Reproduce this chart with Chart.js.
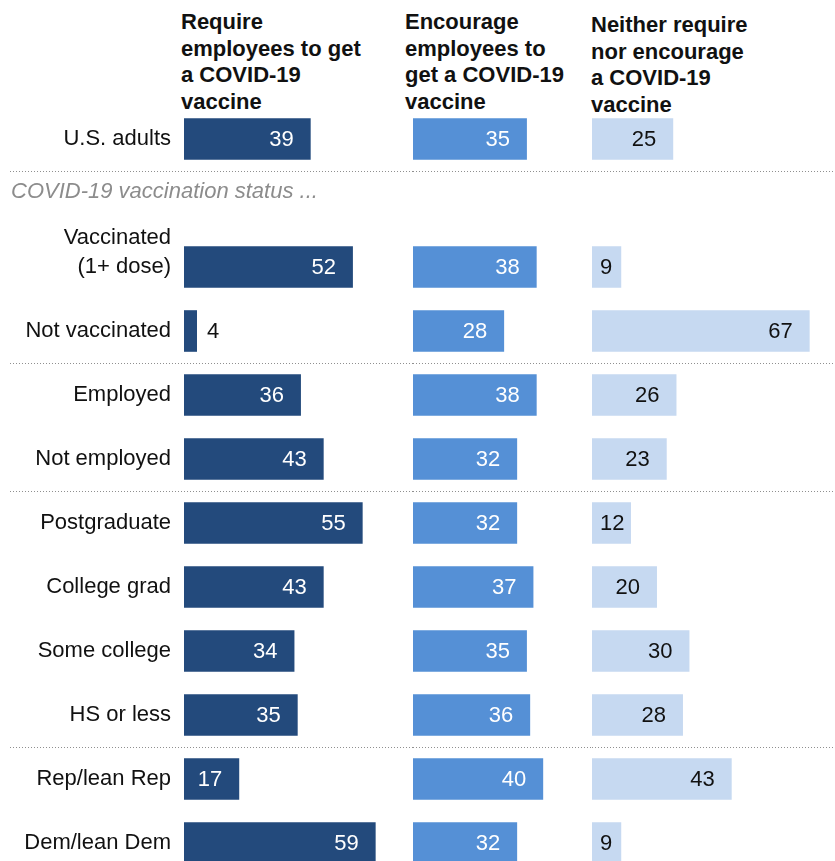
<!DOCTYPE html>
<html>
<head>
<meta charset="utf-8">
<script src="https://cdn.jsdelivr.net/npm/chart.js@4.4.1/dist/chart.umd.min.js"></script>
<style>
  html, body { margin: 0; padding: 0; background: #fff; overflow: hidden; width: 835px; height: 861px; }
  .wrap { position: relative; width: 835px; height: 861px; }
  canvas { position: absolute; top: 0; }
  .head { position: absolute; top: 9px; font: bold 22px "Liberation Sans", Arial, sans-serif;
          line-height: 26.5px; color: #111; white-space: nowrap; }
</style>
</head>
<body>
<div class="wrap">
  <div class="head" style="left:181px">Require<br>employees to get<br>a COVID-19<br>vaccine</div>
  <div class="head" style="left:405px">Encourage<br>employees to<br>get a COVID-19<br>vaccine</div>
  <div class="head" style="left:591px; top:12px">Neither require<br>nor encourage<br>a COVID-19<br>vaccine</div>
  <canvas id="c1" width="413" height="875" style="left:0"></canvas>
  <canvas id="c2" width="179" height="875" style="left:413px"></canvas>
  <canvas id="c3" width="243" height="875" style="left:592px"></canvas>
</div>
<script>
// rows (slot 1 is the "vaccination status" subtitle row)
const categories = ['U.S. adults', '', ['Vaccinated', '(1+ dose)', ''], 'Not vaccinated',
  'Employed', 'Not employed', 'Postgraduate', 'College grad', 'Some college', 'HS or less',
  'Rep/lean Rep', 'Dem/lean Dem'];

const requireVals   = [39, null, 52, 4, 36, 43, 55, 43, 34, 35, 17, 59];
const encourageVals = [35, null, 38, 28, 38, 32, 32, 37, 35, 36, 40, 32];
const neitherVals   = [25, null, 9, 67, 26, 23, 12, 20, 30, 28, 43, 9];

// dotted separators go after these rows
const dotsAfter = [0, 3, 5, 9];
const subtitle = 'COVID-19 vaccination status ...';

const FONT = '"Liberation Sans", Arial, sans-serif';

const panelPlugin = {
  id: 'panel',
  afterDatasetsDraw(chart, args, opts) {
    const ctx = chart.ctx;
    const y = chart.scales.y;
    ctx.save();

    // separators
    ctx.strokeStyle = '#8f8f8f';
    ctx.lineWidth = 1;
    ctx.setLineDash([1, 2]);
    dotsAfter.forEach(i => {
      const py = Math.round((y.getPixelForValue(i) + y.getPixelForValue(i + 1)) / 2) + 0.5;
      ctx.beginPath();
      ctx.moveTo(opts.lineStart, py);
      ctx.lineTo(chart.width, py);
      ctx.stroke();
    });
    ctx.setLineDash([]);

    if (opts.subtitle) {
      const mid = (y.getPixelForValue(0) + y.getPixelForValue(1)) / 2;
      ctx.font = 'italic 22px ' + FONT;
      ctx.fillStyle = '#8c8c8c';
      ctx.textAlign = 'left';
      ctx.textBaseline = 'middle';
      ctx.fillText(opts.subtitle, 11, mid + 21);
    }

    // value labels
    ctx.font = '22px ' + FONT;
    ctx.textBaseline = 'middle';
    const vals = chart.data.datasets[0].data;
    chart.getDatasetMeta(0).data.forEach((bar, i) => {
      const v = vals[i];
      if (v == null) return;
      const txt = String(v);
      const w = ctx.measureText(txt).width;
      const minRight = bar.base + 8 + w;
      if (minRight > bar.x - 2) {
        ctx.fillStyle = '#111';
        ctx.textAlign = 'left';
        ctx.fillText(txt, bar.x + 10, bar.y + 1);
      } else {
        ctx.fillStyle = opts.textColor;
        ctx.textAlign = 'right';
        ctx.fillText(txt, Math.max(bar.x - 17, minRight), bar.y + 1);
      }
    });
    ctx.restore();
  }
};

function makePanel(id, values, color, textColor, max, opts) {
  const yAxis = {
    display: opts.showTicks,
    grid: { display: false, drawTicks: false },
    border: { display: false },
    ticks: {
      autoSkip: false,
      padding: 13,
      color: '#111',
      font: { family: FONT, size: 22, lineHeight: 1.3 }
    }
  };
  if (opts.showTicks) {
    yAxis.afterFit = s => {
      s.width = 184;
      s.paddingTop = 0;
      s.paddingBottom = 0;
    };
  }

  return new Chart(document.getElementById(id), {
    type: 'bar',
    data: {
      labels: categories,
      datasets: [{
        data: values,
        backgroundColor: color,
        borderWidth: 0,
        barPercentage: 0.65,
        categoryPercentage: 1
      }]
    },
    options: {
      indexAxis: 'y',
      responsive: false,
      animation: false,
      layout: { padding: { top: 107, bottom: 0, left: 0, right: 0 } },
      scales: {
        x: { display: false, min: 0, max: max },
        y: yAxis
      },
      plugins: {
        legend: { display: false },
        tooltip: { enabled: false },
        panel: { textColor: textColor, lineStart: opts.lineStart, subtitle: opts.subtitle }
      }
    },
    plugins: [panelPlugin]
  });
}

makePanel('c1', requireVals, '#234a7c', '#fff', 70.5, { showTicks: true, lineStart: 10, subtitle: subtitle });
makePanel('c2', encourageVals, '#5590d6', '#fff', 55, { showTicks: false, lineStart: 0 });
makePanel('c3', neitherVals, '#c6d9f1', '#111', 74.8, { showTicks: false, lineStart: 0 });
</script>
</body>
</html>
